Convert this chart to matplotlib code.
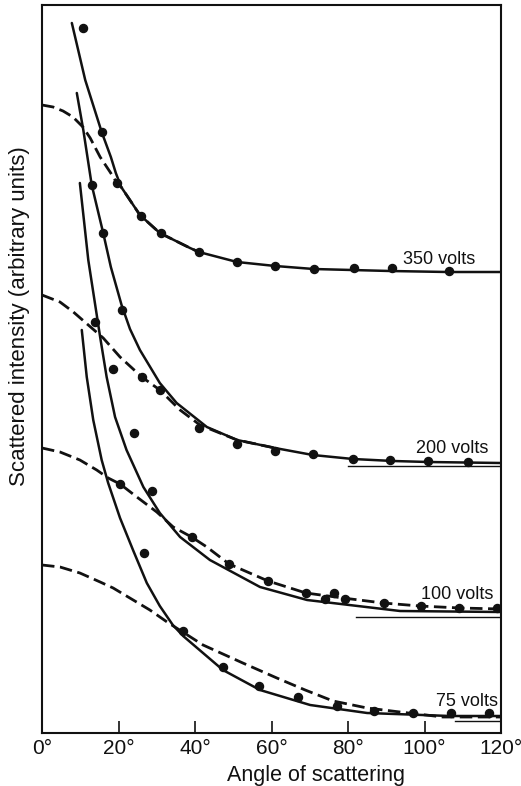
import matplotlib
matplotlib.use("Agg")
import matplotlib.pyplot as plt

plt.rcParams['font.family'] = ['Liberation Sans', 'DejaVu Sans']
plt.rcParams['lines.scale_dashes'] = False

# angles in degrees, intensity in arbitrary units
# 350 volts
s350_x = [7.8, 11.3, 15.6, 18.0, 19.3, 20.7, 25.6, 30.8, 38.7, 41.0, 51.0, 61.0, 71.0, 81.0, 91.0, 106.0, 120.0]
s350_y = [710, 653, 601, 576, 560, 546, 518, 500, 485, 481, 471, 467, 464, 463, 462, 461, 461]
d350_x = [0.0, 2.9, 5.5, 8.1, 10.7, 12.6, 15.2, 17.8, 19.6, 20.7, 25.6, 30.8, 38.7, 41.0]
d350_y = [628, 626, 622, 616, 606, 595, 576, 561, 550, 546, 518, 500, 485, 481]
p350_x = [10.7, 15.6, 19.6, 25.9, 31.1, 41.0, 51.0, 61.0, 71.0, 81.5, 91.4, 106.4]
p350_y = [705, 601, 550, 517, 500, 481, 471, 467, 464, 465, 465, 462]

# 200 volts
s200_x = [9.1, 10.8, 13.0, 16.0, 18.0, 20.8, 23.0, 25.6, 30.8, 35.2, 43.1, 51.0, 60.9, 70.8, 81.3, 91.8, 101.0, 120.0]
s200_y = [640, 603, 548, 500, 466, 428, 404, 383, 350, 330, 306, 293, 285, 278, 274, 272, 271, 270]
d200_x = [0.0, 4.7, 8.2, 11.2, 16.0, 20.4, 26.1, 30.8, 36.1, 41.3, 51.0, 60.9]
d200_y = [438, 431, 421, 411, 395, 376, 356, 343, 323, 308, 293, 285]
p200_x = [13.0, 13.9, 16.0, 18.6, 20.8, 26.1, 30.8, 41.0, 51.0, 60.9, 70.8, 81.3, 91.0, 100.9, 111.4]
p200_y = [548, 411, 500, 364, 423, 356, 343, 305, 289, 282, 279, 274, 273, 272, 271]
b200_x = [80.0, 120.0]
b200_y = [267, 267]

# 100 volts
s100_x = [9.9, 12.1, 15.2, 16.9, 19.1, 22.1, 26.5, 30.8, 36.1, 43.9, 57.0, 69.3, 93.6, 120.0]
s100_y = [550, 473, 396, 356, 316, 283, 246, 220, 196, 173, 146, 133, 122, 121]
d100_x = [0.0, 4.7, 9.9, 14.3, 17.3, 20.4, 24.8, 30.0, 34.3, 39.1, 43.1, 48.9, 59.1, 69.0, 78.7, 89.2, 98.8, 109.3, 120.0]
d100_y = [285, 281, 273, 263, 255, 249, 236, 221, 206, 196, 186, 169, 152, 140, 135, 130, 127, 125, 124]
p100_x = [20.4, 24.0, 28.8, 39.1, 48.9, 59.1, 69.0, 74.0, 76.3, 79.2, 89.4, 99.1, 109.0, 118.9]
p100_y = [249, 300, 242, 196, 169, 152, 140, 134, 140, 134, 130, 127, 125, 125]
b100_x = [82.0, 120.0]
b100_y = [116, 116]

# 75 volts
s75_x = [10.4, 11.7, 13.4, 15.6, 17.3, 20.4, 23.9, 27.4, 30.8, 34.2, 36.9, 47.3, 57.0, 70.1, 85.0, 106.7, 120.0]
s75_y = [403, 356, 313, 273, 250, 215, 182, 150, 127, 108, 97, 63, 43, 28, 20, 17, 17]
d75_x = [0.0, 4.7, 9.9, 15.2, 18.6, 28.2, 32.7, 42.1, 52.5, 61.4, 68.8, 76.1, 85.0, 93.6, 104.8, 120.0]
d75_y = [168, 166, 160, 151, 145, 123, 111, 88, 70, 55, 43, 32, 25, 21, 16, 16]
p75_x = [26.7, 36.9, 47.3, 56.7, 66.9, 77.1, 86.8, 96.9, 106.9, 116.8]
p75_y = [180, 102, 66, 47, 36, 27, 22, 20, 20, 20]
b75_x = [108.0, 120.0]
b75_y = [12, 12]

labels = ["350 volts", "200 volts", "100 volts", "75 volts"]
label_x = [113.2, 116.8, 118.0, 119.2]
label_y = [469, 280, 134, 27]

fig = plt.figure(figsize=(5.21, 7.86), dpi=100)
ax = fig.add_axes([42/521, 1-733/786, 459/521, 728/786])

ink = "#111111"
dash = (9, 4)
sets = [(s350_x, s350_y, d350_x, d350_y, p350_x, p350_y),
        (s200_x, s200_y, d200_x, d200_y, p200_x, p200_y),
        (s100_x, s100_y, d100_x, d100_y, p100_x, p100_y),
        (s75_x, s75_y, d75_x, d75_y, p75_x, p75_y)]
for sx, sy, dx, dy, px, py in sets:
    ax.plot(sx, sy, color=ink, lw=1.8, solid_joinstyle="round", solid_capstyle="round")
    ax.plot(dx, dy, color=ink, lw=2.0, dashes=dash)
    ax.plot(px, py, "o", color=ink, ms=5.8, mec=ink)

for bx, by in [(b200_x, b200_y), (b100_x, b100_y), (b75_x, b75_y)]:
    ax.plot(bx, by, color=ink, lw=1.0)

for t, lx, ly in zip(labels, label_x, label_y):
    ax.text(lx, ly, t, ha="right", va="baseline", fontsize=13, color=ink)

ax.set_xlim(0, 120)
ax.set_ylim(0, 728)
ax.set_xticks([0, 20, 40, 60, 80, 100, 120])
ax.set_xticklabels(["0°", "20°", "40°", "60°", "80°", "100°", "120°"], fontsize=15)
ax.set_yticks([])
ax.tick_params(axis="x", direction="in", length=9, width=1.2, pad=4, colors=ink)
for sp in ax.spines.values():
    sp.set_linewidth(1.5)
    sp.set_color(ink)

fig.text(316/521, 1-781/786, "Angle of scattering", ha="center", va="baseline", fontsize=15.5, color=ink)
fig.text(20/521, 1-316/786, "Scattered intensity (arbitrary units)", rotation=90,
         ha="center", va="center", fontsize=16, color=ink)

fig.savefig("out.png", dpi=100)
